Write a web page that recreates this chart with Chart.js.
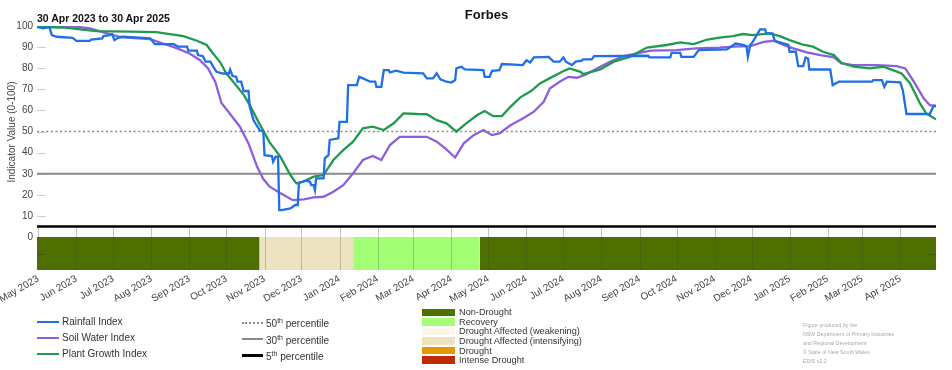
<!DOCTYPE html>
<html><head><meta charset="utf-8">
<script src="https://cdn.jsdelivr.net/npm/chart.js@4.4.1/dist/chart.umd.min.js"></script>
<style>
html,body{margin:0;padding:0;background:#fff;}
#wrap{position:relative;width:952px;height:370px;font-family:"Liberation Sans",Arial,sans-serif;overflow:hidden;background:#fff;}
#c{position:absolute;left:0;top:0;}
.t{position:absolute;white-space:nowrap;}
.sup{font-size:7px;position:relative;top:-4px;}
</style></head><body>
<div id="wrap">
<canvas id="c" width="952" height="370" style="width:952px;height:370px"></canvas>
</div>
<script>
// ---------------- DATA ----------------
const chartTitle = 'Forbes';
const periodText = '30 Apr 2023 to 30 Apr 2025';
const yAxisTitle = 'Indicator Value (0-100)';
// x values are days since 1 May 2023
const tickDays = [0,31,61,92,123,153,184,214,245,276,305,336,366,397,427,458,489,519,550,580,611,642,670,701];
const tickLabels = ['May 2023','Jun 2023','Jul 2023','Aug 2023','Sep 2023','Oct 2023','Nov 2023','Dec 2023','Jan 2024','Feb 2024','Mar 2024','Apr 2024','May 2024','Jun 2024','Jul 2024','Aug 2024','Sep 2024','Oct 2024','Nov 2024','Dec 2024','Jan 2025','Feb 2025','Mar 2025','Apr 2025'];
const yTicks = [0,10,20,30,40,50,60,70,80,90,100];

const rainDay = [-1,4,9,11,15,28,31,42,43,52,
 53,58,60,62,65,69,91,95,110,114,
 121,122,129,130,134,136,140,142,145,150,
 155,156,158,161,162,165,167,171,172,175,
 180,183,184,190,191,193,195,196,198,205,
 209,211,212,218,221,222,224,225,226,232,
 233,236,237,244,245,251,252,259,261,264,
 270,274,275,279,281,285,286,291,297,313,
 316,321,324,327,332,336,339,340,344,347,
 362,363,367,369,375,377,394,397,400,403,
 415,419,424,427,429,434,437,442,443,450,
 452,496,497,514,515,522,523,533,537,560,
 567,574,576,577,579,581,587,591,592,597,
 599,610,611,616,618,622,624,626,627,644,
 646,651,678,679,686,688,690,701,703,706,
 725,728,730];
const rainVal = [99.6,98.9,99.6,95.7,94.9,94.4,93.0,93.0,93.6,94.1,
 95.2,95.7,96.2,93.3,94.4,94.9,94.1,91.4,91.4,90.2,
 90.2,88.3,88.3,86.2,85.7,83.1,83.1,81.0,78.3,77.5,
 77.5,79.4,76.3,76.0,73.6,73.6,69.2,69.2,61.7,55.4,
 50.7,49.9,38.8,38.4,35.7,38.1,38.1,12.8,12.8,13.6,
 15.2,15.2,25.7,26.7,26.2,24.6,24.6,22.3,27.8,27.8,
 37.3,38.8,46.0,46.8,54.6,54.6,72.0,72.0,75.9,75.2,
 73.6,73.6,71.2,71.2,79.1,79.1,78.0,78.8,77.9,77.6,
 75.2,75.2,77.6,74.7,73.6,73.2,74.4,79.9,80.7,79.4,
 79.1,75.9,75.9,78.8,79.1,82.0,81.5,83.8,82.7,85.1,
 85.4,83.1,83.1,85.1,83.1,81.5,83.1,83.6,84.2,84.2,
 85.7,85.9,85.1,85.1,87.3,87.3,85.4,85.4,88.6,88.9,
 91.7,91.0,90.1,85.4,91.0,92.5,98.4,98.4,96.5,96.5,
 93.0,91.0,87.8,87.8,81.0,81.0,85.1,84.6,79.4,79.4,
 72.0,73.6,73.6,74.4,74.4,71.2,73.6,73.3,69.6,58.3,
 58.3,62.1,62.1];

const soilDay = [-1,26,42,56,66,75,91,102,113,123,
 131,138,144,149,156,164,171,178,183,188,
 197,207,216,224,232,240,248,256,264,272,
 279,286,294,316,324,331,339,346,354,362,
 369,375,384,394,403,411,416,424,431,438,
 446,457,465,476,487,498,519,535,554,565,
 579,590,598,606,614,625,636,647,653,663,
 682,698,705,712,720,725,730];
const soilVal = [100,100,98.9,96.5,94.9,94.4,93.8,91.6,89.4,87.0,
 84.0,80.0,73.5,63.5,58.3,52.3,44.4,33.3,27.5,24.0,
 20.7,17.5,17.9,18.8,19.1,21.5,24.6,30.2,36.5,38.4,
 36.5,43.6,47.5,47.5,45.2,42.0,37.7,44.4,48.3,50.7,
 48.3,49.1,53.0,56.2,59.4,64.1,70.4,73.6,75.9,75.5,
 77.2,80.7,83.1,85.7,87.0,88.3,88.6,89.4,89.8,90.2,
 90.5,92.5,93.0,91.0,89.4,87.5,86.2,85.1,82.3,81.5,
 81.5,81.0,79.9,73.6,65.7,62.5,62.1];

const plantDay = [-1,20,47,75,96,107,118,129,137,141,
 148,153,159,167,172,180,183,188,197,205,
 210,215,224,232,240,248,256,264,272,281,
 289,297,308,316,324,332,340,348,357,363,
 370,377,384,392,401,408,418,426,432,441,
 443,457,468,481,495,511,522,533,544,554,
 565,573,581,595,603,611,621,630,638,647,
 653,663,676,687,695,702,709,717,722,730];
const plantVal = [99.5,99.3,97.6,97.3,97.1,96.2,95.2,93.0,91.0,87.8,
 82.8,77.5,73.2,67.5,62.5,53.5,50.5,45.0,38.0,29.4,
 25.4,26.2,28.6,29.4,36.5,41.2,45.2,51.5,52.3,50.7,
 53.9,58.6,58.3,58.2,55.4,53.9,49.9,53.9,57.8,59.7,
 57.3,57.3,61.7,66.2,69.3,72.8,75.9,78.3,79.9,78.3,
 77.2,79.4,83.1,85.4,89.8,91.0,92.2,91.4,93.6,94.5,
 95.2,96.2,95.7,96.5,95.2,93.3,91.3,90.2,87.8,86.2,
 82.6,80.7,79.9,80.7,79.1,77.5,72.8,63.3,58.6,55.8];

const seriesNames = ['Rainfall Index','Soil Water Index','Plant Growth Index'];
const percentileValues = [50, 30, 5];
const percentileNames = ['50','30','5'];

const categoryNames = ['Non-Drought','Recovery','Drought Affected (weakening)','Drought Affected (intensifying)','Drought','Intense Drought'];
const bandStart = [-1, 180, 256, 359];
const bandEnd   = [180, 256, 359, 730];
const bandCategory = ['Non-Drought','Drought Affected (intensifying)','Recovery','Non-Drought'];

const footnoteLines = ['Figure produced by the','NSW Department of Primary Industries','and Regional Development','\u00A9 State of New South Wales','EDIS v2.2'];

// ---------------- STYLE ----------------
const X_MIN = -1, X_MAX = 730, Y_MIN = -15.6, Y_MAX = 100;
const seriesColors = ['#1f6fe6','#8c5fdf','#1f9a4e'];
const percentileStyles = [
  {color:'#8a8a8a', width:1.6, dash:[2,2.6]},
  {color:'#8a8a8a', width:2.2, dash:[]},
  {color:'#000000', width:2.6, dash:[]}
];
const categoryColors = ['#4d7000','#a3ff73','#fdf5e8','#ede3c0','#e69800','#c02a08'];

Chart.defaults.font.family = '"Liberation Sans", Arial, sans-serif';
Chart.defaults.color = '#444';

const zip = (xs, ys) => xs.map((x, i) => ({x, y: ys[i]}));

const datasets = [];
[[rainDay, rainVal],[soilDay, soilVal],[plantDay, plantVal]].forEach((s, i) => {
  datasets.push({
    label: seriesNames[i], data: zip(s[0], s[1]),
    borderColor: seriesColors[i], borderWidth: 2.3, pointRadius: 0,
    tension: 0, fill: false, order: i === 0 ? 1 : (i === 2 ? 2 : 3)
  });
});
percentileValues.forEach((v, i) => {
  datasets.push({
    label: percentileNames[i] + 'th percentile',
    data: [{x: X_MIN, y: v}, {x: X_MAX, y: v}],
    borderColor: percentileStyles[i].color, borderWidth: percentileStyles[i].width,
    borderDash: percentileStyles[i].dash, pointRadius: 0, fill: false, order: 5 + i
  });
});
bandStart.forEach((s, i) => {
  const col = categoryColors[categoryNames.indexOf(bandCategory[i])];
  datasets.push({
    label: bandCategory[i],
    data: [{x: s, y: 0}, {x: bandEnd[i], y: 0}],
    borderColor: 'rgba(0,0,0,0)', borderWidth: 0.01, pointRadius: 0,
    backgroundColor: col, fill: {value: Y_MIN}, order: 20 + i
  });
});

const gridPlugin = {
  id: 'edisGrid',
  beforeDatasetsDraw(chart) {
    const {ctx, chartArea: a, scales: {x, y}} = chart;
    ctx.save();
    ctx.lineWidth = 1;
    ctx.strokeStyle = '#c4c4c4';
    const yTop = y.getPixelForValue(5), yBand = y.getPixelForValue(0);
    tickDays.forEach(d => {
      const px = Math.round(x.getPixelForValue(d)) + 0.5;
      ctx.beginPath(); ctx.moveTo(px, yTop); ctx.lineTo(px, yBand); ctx.stroke();
    });
    ctx.strokeStyle = '#cfcfcf';
    yTicks.forEach(v => {
      if (v <= 5) return;
      const py = Math.round(y.getPixelForValue(v)) + 0.5;
      ctx.beginPath(); ctx.moveTo(a.left, py); ctx.lineTo(a.left + 9, py); ctx.stroke();
    });
    ctx.restore();
  },
  afterDatasetsDraw(chart) {
    const {ctx, chartArea: a, scales: {x, y}} = chart;
    ctx.save();
    ctx.lineWidth = 1;
    const yBand = y.getPixelForValue(0);
    ctx.strokeStyle = 'rgba(70,70,70,0.28)';
    tickDays.forEach(d => {
      const px = Math.round(x.getPixelForValue(d)) + 0.5;
      ctx.beginPath(); ctx.moveTo(px, yBand); ctx.lineTo(px, a.bottom); ctx.stroke();
    });
    const pm = Math.round(y.getPixelForValue((0 + Y_MIN) / 2)) + 0.5;
    ctx.strokeStyle = 'rgba(40,40,40,0.3)';
    ctx.beginPath(); ctx.moveTo(a.left, pm); ctx.lineTo(a.left + 8, pm); ctx.stroke();
    ctx.beginPath(); ctx.moveTo(a.right - 9, pm); ctx.lineTo(a.right, pm); ctx.stroke();
    ctx.restore();
  }
};

new Chart(document.getElementById('c'), {
  type: 'line',
  data: { datasets },
  plugins: [gridPlugin],
  options: {
    responsive: false, animation: false, devicePixelRatio: 1,
    layout: { padding: { left: 0, right: 16, top: 26, bottom: 0 } },
    plugins: { legend: { display: false }, tooltip: { enabled: false }, title: { display: false } },
    scales: {
      x: {
        type: 'linear', min: X_MIN, max: X_MAX,
        grid: { display: false, drawTicks: false }, border: { display: false },
        afterBuildTicks: s => { s.ticks = tickDays.map(v => ({value: v})); },
        afterFit: s => { s.height = 100; s.paddingLeft = 0; s.paddingRight = 0; },
        ticks: { autoSkip: false, minRotation: 30, maxRotation: 30, padding: 3,
          font: { size: 10 }, color: '#444',
          callback: v => tickLabels[tickDays.indexOf(v)] }
      },
      y: {
        type: 'linear', min: Y_MIN, max: Y_MAX,
        grid: { display: false, drawTicks: false }, border: { display: false },
        afterBuildTicks: s => { s.ticks = yTicks.map(v => ({value: v})); },
        afterFit: s => { s.width = 37; s.paddingTop = 0; s.paddingBottom = 0; },
        ticks: { padding: 4, font: { size: 10 }, color: '#444', callback: v => String(v) }
      }
    }
  }
});

// ---------------- HTML TEXT (titles, legends) ----------------
const wrap = document.getElementById('wrap');
function el(html, css) {
  const d = document.createElement('div');
  d.className = 't';
  d.innerHTML = html;
  Object.assign(d.style, css);
  wrap.appendChild(d);
  return d;
}
el(chartTitle, {left: '486.5px', top: '8px', transform: 'translateX(-50%)', fontSize: '13px', lineHeight: '13px', fontWeight: 'bold', color: '#111'});
el(periodText, {left: '37px', top: '13px', fontSize: '10.5px', lineHeight: '10.5px', fontWeight: 'bold', color: '#111'});
el(yAxisTitle, {left: '-88px', top: '125.5px', width: '200px', height: '12px', lineHeight: '12px', textAlign: 'center', fontSize: '10px', color: '#444', transform: 'rotate(-90deg)'});

const seriesRows = [322, 338, 354];
seriesNames.forEach((n, i) => {
  el('', {left: '37px', top: (seriesRows[i] - 1.2) + 'px', width: '22px', height: '2.4px', background: seriesColors[i]});
  el(n, {left: '62px', top: (seriesRows[i] - 6) + 'px', fontSize: '10px', lineHeight: '12px', color: '#333'});
});
const pctRows = [323, 339.5, 355.5];
percentileNames.forEach((n, i) => {
  const st = percentileStyles[i];
  const css = {left: '242px', width: '21px', top: (pctRows[i] - 1.2) + 'px'};
  if (st.dash.length) { css.height = '0px'; css.borderTop = '2px dotted ' + st.color; css.top = (pctRows[i] - 1) + 'px'; }
  else { css.height = st.width + 'px'; css.background = st.color; }
  el('', css);
  el(n + '<span class="sup">th</span> percentile', {left: '266px', top: (pctRows[i] - 5) + 'px', fontSize: '10px', lineHeight: '12px', color: '#333'});
});
categoryNames.forEach((n, i) => {
  const cy = 312.3 + i * 9.55;
  el('', {left: '422px', top: (cy - 3.6) + 'px', width: '33px', height: '7.4px', background: categoryColors[i]});
  el(n, {left: '459px', top: (cy - 5) + 'px', fontSize: '9.2px', lineHeight: '10px', color: '#333'});
});
const fn = el(footnoteLines.join('<br>'), {left: '803px', top: '320.5px', fontSize: '8px', lineHeight: '13.6px', color: '#a8a8a8', transform: 'scale(0.66)', transformOrigin: '0 0'});
</script>
</body></html>
